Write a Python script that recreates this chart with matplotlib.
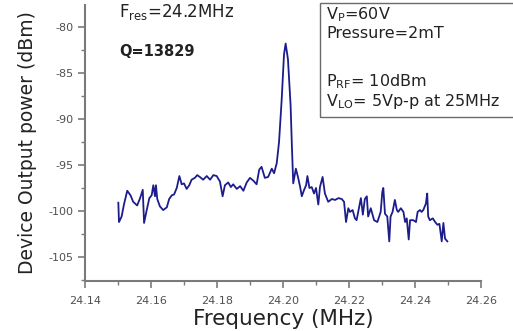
import matplotlib
matplotlib.use("Agg")
import matplotlib.pyplot as plt
from matplotlib.patches import Rectangle
from matplotlib.ticker import MultipleLocator

plt.rcParams['font.family'] = ['DejaVu Sans']
plt.rcParams['axes.unicode_minus'] = False

freq = [24.1501, 24.1503, 24.1511, 24.1518, 24.1528, 24.1538, 24.1546, 24.1558, 24.1567, 24.1575,
        24.1579, 24.1587, 24.1595, 24.1602, 24.1607, 24.1612, 24.1615, 24.1619, 24.1627, 24.1637,
        24.1648, 24.1655, 24.1663, 24.1670, 24.1678, 24.1686, 24.1693, 24.1700, 24.1708, 24.1716,
        24.1723, 24.1733, 24.1740, 24.1748, 24.1758, 24.1769, 24.1779, 24.1789, 24.1799, 24.1809,
        24.1817, 24.1824, 24.1834, 24.1842, 24.1849, 24.1860, 24.1870, 24.1880, 24.1890, 24.1900,
        24.1910, 24.1920, 24.1928, 24.1935, 24.1945, 24.1955, 24.1966, 24.1973, 24.1981, 24.1988,
        24.1996, 24.2003, 24.2008, 24.2015, 24.2023, 24.2027, 24.2031, 24.2039, 24.2046, 24.2052,
        24.2057, 24.2064, 24.2070, 24.2074, 24.2080, 24.2087, 24.2094, 24.2100, 24.2107, 24.2112,
        24.2120, 24.2127, 24.2137, 24.2148, 24.2158, 24.2168, 24.2178, 24.2185, 24.2191, 24.2198,
        24.2203, 24.2211, 24.2218, 24.2223, 24.2231, 24.2236, 24.2242, 24.2248, 24.2254, 24.2258,
        24.2266, 24.2276, 24.2286, 24.2296, 24.2301, 24.2304, 24.2309, 24.2316, 24.2322, 24.2326,
        24.2332, 24.2339, 24.2345, 24.2349, 24.2357, 24.2365, 24.2370, 24.2375, 24.2381, 24.2385,
        24.2395, 24.2403, 24.2408, 24.2415, 24.2420, 24.2425, 24.2433, 24.2437, 24.2440, 24.2445,
        24.2454, 24.2461, 24.2468, 24.2474, 24.2481, 24.2486, 24.2491, 24.2498]

power = [-99.1, -101.2, -100.6, -99.3, -97.8, -98.3, -99.0, -99.4, -98.6, -97.7,
         -101.3, -99.9, -98.6, -98.3, -97.2, -98.4, -97.2, -98.7, -99.5, -99.9,
         -99.6, -98.7, -98.3, -98.2, -97.5, -96.2, -97.1, -97.0, -97.6, -97.2,
         -96.6, -96.4, -96.1, -96.3, -96.6, -96.2, -96.6, -96.1, -96.2, -96.8,
         -98.4, -97.2, -96.9, -97.4, -97.1, -97.6, -97.3, -97.8, -96.9, -96.4,
         -96.7, -97.1, -95.5, -95.2, -96.4, -96.3, -95.4, -95.9, -94.8, -92.5,
         -87.9, -83.0, -81.8, -83.5, -88.5, -93.0, -97.0, -95.4, -96.4, -97.4,
         -98.4, -97.7, -97.2, -96.2, -97.5, -97.4, -98.1, -97.5, -99.3, -97.4,
         -96.3, -98.1, -99.0, -98.7, -98.8, -98.6, -98.7, -99.0, -101.2, -99.7,
         -100.1, -99.9, -100.8, -101.0, -99.5, -98.6, -100.4, -98.7, -98.4, -100.6,
         -99.7, -101.0, -101.2, -100.1, -97.9, -97.5, -100.3, -100.6, -103.3, -100.6,
         -100.1, -98.8, -99.9, -100.1, -99.7, -100.1, -101.2, -100.8, -103.1, -101.0,
         -101.0, -101.2, -100.1, -99.9, -100.1, -99.9, -99.2, -98.1, -100.6, -101.0,
         -100.8, -101.2, -101.5, -101.4, -103.3, -101.3, -103.0, -103.3]

xticks = [24.14, 24.16, 24.18, 24.20, 24.22, 24.24, 24.26]
xticklabels = ["24.14", "24.16", "24.18", "24.20", "24.22", "24.24", "24.26"]
yticks = [-105, -100, -95, -90, -85, -80]
yticklabels = ["-105", "-100", "-95", "-90", "-85", "-80"]

W, H = 513, 331
fig = plt.figure(figsize=(W / 100, H / 100), dpi=100)
ax = fig.add_axes([85 / W, 50 / H, 396 / W, 276 / H])

ax.plot(freq, power, color='#1c1c8c', lw=1.3)

ax.set_xlim(24.14, 24.26)
ax.set_ylim(-107.61, -77.61)
ax.set_xticks(xticks)
ax.set_xticklabels(xticklabels)
ax.set_yticks(yticks)
ax.set_yticklabels(yticklabels)
ax.xaxis.set_minor_locator(MultipleLocator(0.01))
ax.yaxis.set_minor_locator(MultipleLocator(2.5))

for s in ['top', 'right']:
    ax.spines[s].set_visible(False)
for s in ['left', 'bottom']:
    ax.spines[s].set_color('#7a7a7a')
    ax.spines[s].set_linewidth(1.5)

ax.tick_params(which='both', direction='out', colors='#7a7a7a', labelcolor='#505050',
               labelsize=8)
ax.tick_params(which='major', length=5, width=1.2)
ax.tick_params(which='minor', length=3, width=1.0)
ax.tick_params(axis='x', pad=6)

ax.set_xlabel("Frequency (MHz)", fontsize=15.5, color='#222222', labelpad=2)
ax.set_ylabel("Device Output power (dBm)", fontsize=13.5, color='#222222', labelpad=8)

def fx(x):
    return x / W

def fy(y):
    return 1 - y / H

fig.text(fx(119), fy(17.5), r"F$_{\mathrm{res}}$=24.2MHz", fontsize=12, color='#222222', va='baseline')
fig.text(fx(119), fy(55.5), "Q=13829", fontsize=10.5, fontweight='bold', color='#222222', va='baseline')

box = Rectangle((fx(320), fy(117)), fx(520) - fx(320), fy(3) - fy(117), transform=fig.transFigure,
                fill=False, edgecolor='#6a6a6a', lw=1.0, clip_on=False)
fig.add_artist(box)

box_lines = [r"V$_{\mathrm{P}}$=60V", "Pressure=2mT", r"P$_{\mathrm{RF}}$= 10dBm",
             r"V$_{\mathrm{LO}}$= 5Vp-p at 25MHz"]
box_y = [19, 37.5, 86, 106]
for t, y in zip(box_lines, box_y):
    fig.text(fx(326), fy(y), t, fontsize=11.5, color='#222222', va='baseline')

fig.savefig("out.png", dpi=100)
